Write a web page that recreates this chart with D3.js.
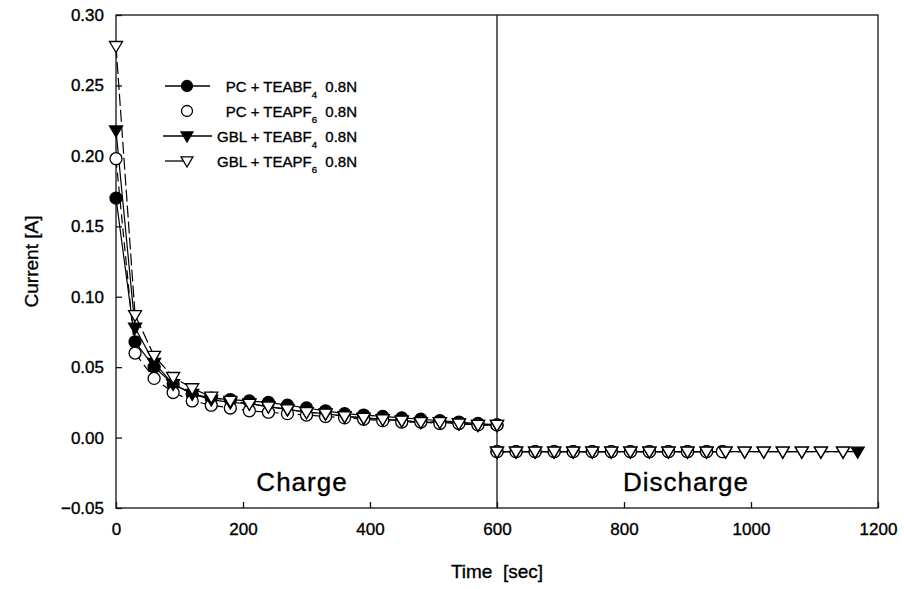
<!DOCTYPE html>
<meta charset="utf-8">
<style>
body { margin: 0; background: #fff; }
svg { font-family: "Liberation Sans", Arial, sans-serif; }
.axis path, .axis line { stroke: #111; stroke-width: 1.3px; }
.axis text { font-size: 17px; fill: #000; stroke: #000; stroke-width: 0.35px; }
.lbl { fill: #000; stroke: #000; stroke-width: 0.35px; }
</style>
<body></body>
<script src="https://cdnjs.cloudflare.com/ajax/libs/d3/7.8.5/d3.min.js"></script>
<script>

// time points
var tCharge = [0, 30, 60, 90, 120, 150, 180, 210, 240, 270, 300, 330, 360, 390, 420, 450, 480, 510, 540, 570, 600]
var tDisPC = [600, 630, 660, 690, 720, 750, 780, 810, 840, 870, 900, 930, 955]
var tDisGBL4 = [600, 630, 660, 690, 720, 750, 780, 810, 840, 870, 900, 930, 960, 990, 1020, 1050, 1080, 1110, 1145, 1168]
var tDisGBL6 = [600, 630, 660, 690, 720, 750, 780, 810, 840, 870, 900, 930, 960, 990, 1020, 1050, 1080, 1110, 1145]

// current [A]
var pcBF4 = [0.170, 0.068, 0.050, 0.038, 0.031, 0.028, 0.027, 0.026, 0.025, 0.023, 0.021, 0.019, 0.017, 0.016, 0.015, 0.014, 0.013, 0.012, 0.011, 0.010, 0.009]
var pcPF6 = [0.198, 0.060, 0.042, 0.032, 0.026, 0.023, 0.021, 0.019, 0.018, 0.017, 0.016, 0.015, 0.014, 0.013, 0.012, 0.011, 0.011, 0.010, 0.010, 0.009, 0.009]
var gblBF4 = [0.218, 0.078, 0.053, 0.038, 0.031, 0.027, 0.025, 0.024, 0.022, 0.020, 0.018, 0.017, 0.015, 0.014, 0.013, 0.012, 0.011, 0.011, 0.010, 0.009, 0.009]
var gblPF6 = [0.278, 0.087, 0.058, 0.043, 0.035, 0.029, 0.026, 0.024, 0.022, 0.020, 0.018, 0.017, 0.015, 0.014, 0.013, 0.012, 0.011, 0.011, 0.010, 0.009, 0.009]

var pcBF4Dis = [-0.010, -0.010, -0.010, -0.010, -0.010, -0.010, -0.010, -0.010, -0.010, -0.010, -0.010, -0.010, -0.010]
var pcPF6Dis = [-0.010, -0.010, -0.010, -0.010, -0.010, -0.010, -0.010, -0.010, -0.010, -0.010, -0.010, -0.010, -0.010]
var gblBF4Dis = [-0.010, -0.010, -0.010, -0.010, -0.010, -0.010, -0.010, -0.010, -0.010, -0.010, -0.010, -0.010, -0.010, -0.010, -0.010, -0.010, -0.010, -0.010, -0.010, -0.010]
var gblPF6Dis = [-0.010, -0.010, -0.010, -0.010, -0.010, -0.010, -0.010, -0.010, -0.010, -0.010, -0.010, -0.010, -0.010, -0.010, -0.010, -0.010, -0.010, -0.010, -0.010]

var xTicks = [0, 200, 400, 600, 800, 1000, 1200]
var yTicks = [-0.05, 0.00, 0.05, 0.10, 0.15, 0.20, 0.25, 0.30]

function zip(t, v) { return t.map(function(d, i) { return {t: d, v: v[i]} }) }

var series = [
  {name: "PC + TEABF", sub: "4", marker: "circle", fill: "#000", dash: null, charge: zip(tCharge, pcBF4), dis: zip(tDisPC, pcBF4Dis)},
  {name: "PC + TEAPF", sub: "6", marker: "circle", fill: "#fff", dash: "9,5", charge: zip(tCharge, pcPF6), dis: zip(tDisPC, pcPF6Dis)},
  {name: "GBL + TEABF", sub: "4", marker: "tri", fill: "#000", dash: null, charge: zip(tCharge, gblBF4), dis: zip(tDisGBL4, gblBF4Dis)},
  {name: "GBL + TEAPF", sub: "6", marker: "tri", fill: "#fff", dash: "12,4", charge: zip(tCharge, gblPF6), dis: zip(tDisGBL6, gblPF6Dis)}
]

var W = 904, H = 589
var margin = {top: 15, right: 26, bottom: 81, left: 116}

var svg = d3.select("body").append("svg")
    .attr("width", W)
    .attr("height", H)

var x = d3.scaleLinear().domain([0, 1200]).range([margin.left, W - margin.right])
var y = d3.scaleLinear().domain([-0.05, 0.30]).range([H - margin.bottom, margin.top])

// frame
svg.append("rect")
    .attr("x", x(0)).attr("y", y(0.30))
    .attr("width", x(1200) - x(0)).attr("height", y(-0.05) - y(0.30))
    .attr("fill", "none").attr("stroke", "#111").attr("stroke-width", 1.3)

svg.append("g")
    .attr("class", "axis")
    .attr("transform", "translate(0," + y(-0.05) + ")")
    .call(d3.axisBottom(x).tickValues(xTicks).tickSize(-6).tickPadding(15).tickFormat(d3.format("d")))
    .call(g => g.select(".domain").remove())

svg.append("g")
    .attr("class", "axis")
    .attr("transform", "translate(" + x(0) + ",0)")
    .call(d3.axisLeft(y).tickValues(yTicks).tickSize(-6).tickPadding(12).tickFormat(d3.format(".2f")))
    .call(g => g.select(".domain").remove())

// charge / discharge divider
svg.append("line")
    .attr("x1", x(600)).attr("x2", x(600))
    .attr("y1", y(0.30)).attr("y2", y(-0.05))
    .attr("stroke", "#111").attr("stroke-width", 1.3)

var line = d3.line().x(d => x(d.t)).y(d => y(d.v))

var triPath = "M-6.5,-4.5 L6.5,-4.5 L0,6.5 Z"

function drawMarker(g, s, r) {
  var k = r / 6
  if (s.marker == "circle") {
    g.append("circle").attr("r", r)
      .attr("fill", s.fill).attr("stroke", "#000").attr("stroke-width", 1.3)
  } else {
    g.append("path").attr("d", triPath).attr("transform", "scale(" + k + ")")
      .attr("fill", s.fill).attr("stroke", "#000").attr("stroke-width", 1.3 / k)
  }
}

series.forEach(function(s) {
  [s.charge, s.dis].forEach(function(pts) {
    svg.append("path")
        .datum(pts)
        .attr("d", line)
        .attr("fill", "none")
        .attr("stroke", "#000")
        .attr("stroke-width", 1.2)
        .attr("stroke-dasharray", s.dash)
  })
})
// later series on top, as in the original
series.forEach(function(s) {
  s.charge.concat(s.dis).forEach(function(d) {
    var g = svg.append("g").attr("transform", "translate(" + x(d.t) + "," + y(d.v) + ")")
    drawMarker(g, s, 6)
  })
})

// legend
var legY = [86, 111, 136, 161]
var legendLines = [[165, 210], null, [163, 212], [165, 183]]
series.forEach(function(s, i) {
  var g = svg.append("g").attr("transform", "translate(0," + legY[i] + ")")
  if (legendLines[i]) {
    g.append("line").attr("x1", legendLines[i][0]).attr("x2", legendLines[i][1])
      .attr("stroke", "#000").attr("stroke-width", 1.3)
  }
  var m = g.append("g").attr("transform", "translate(187,0)")
  drawMarker(m, s, 5.5)
  var txt = g.append("text")
      .attr("class", "lbl")
      .attr("x", 357).attr("y", 6)
      .attr("text-anchor", "end")
      .attr("font-size", 15)
      .style("white-space", "pre")
  txt.append("tspan").text(s.name)
  txt.append("tspan").attr("font-size", 9.5).attr("dy", 6).text(s.sub)
  txt.append("tspan").attr("dy", -6).text("  0.8N")
})

// region labels
svg.append("text").attr("class", "lbl").attr("x", 302).attr("y", 491)
    .attr("text-anchor", "middle").attr("font-size", 26).attr("letter-spacing", 1)
    .text("Charge")
svg.append("text").attr("class", "lbl").attr("x", 686).attr("y", 491)
    .attr("text-anchor", "middle").attr("font-size", 26).attr("letter-spacing", 1)
    .text("Discharge")

// axis titles
svg.append("text")
    .attr("class", "lbl")
    .attr("transform", "translate(38," + y(0.125) + ") rotate(-90)")
    .attr("text-anchor", "middle").attr("font-size", 19)
    .text("Current [A]")
svg.append("text")
    .attr("class", "lbl")
    .attr("x", x(600)).attr("y", 578)
    .attr("text-anchor", "middle").attr("font-size", 19)
    .style("white-space", "pre")
    .text("Time  [sec]")

</script>
